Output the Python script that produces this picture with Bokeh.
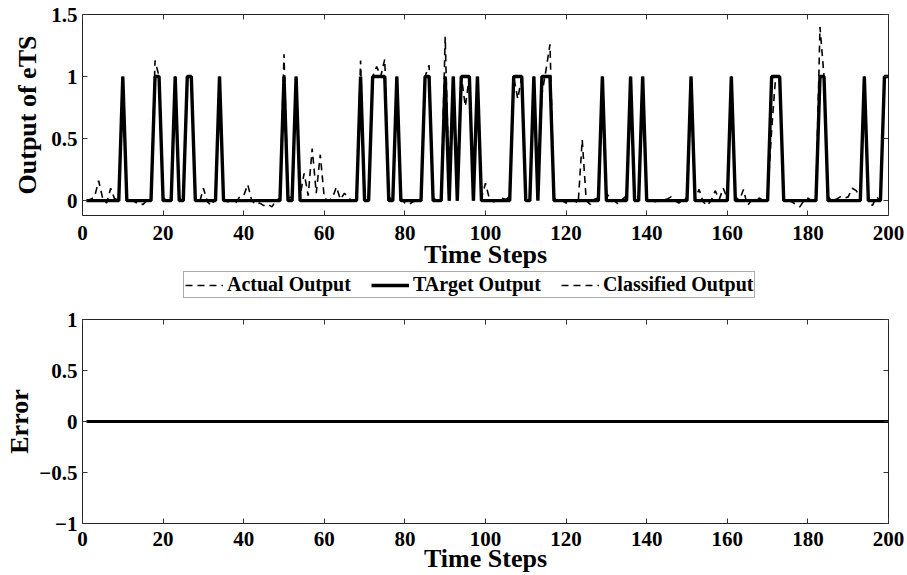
from bokeh.plotting import figure
from bokeh.layouts import column
from bokeh.models import (FixedTicker, LinearAxis, Legend, LegendItem, Range1d,
                          CustomJSTickFormatter)
from bokeh.embed import file_html
from bokeh.resources import INLINE

# ---------------------------------------------------------------- data
time_steps = list(range(1, 201))

target_output = [
    0, 0, 0, 0, 0, 0, 0, 0, 0, 1,
    0, 0, 0, 0, 0, 0, 0, 1, 1, 0,
    0, 0, 1, 0, 0, 1, 1, 0, 0, 0,
    0, 0, 0, 1, 0, 0, 0, 0, 0, 0,
    0, 0, 0, 0, 0, 0, 0, 0, 0, 1,
    0, 0, 1, 0, 0, 0, 0, 0, 0, 0,
    0, 0, 0, 0, 0, 0, 0, 0, 1, 0,
    0, 1, 1, 1, 1, 0, 0, 1, 0, 0,
    0, 0, 0, 0, 1, 1, 0, 0, 0, 1,
    0, 1, 0, 1, 1, 1, 0, 1, 0, 0,
    0, 0, 0, 0, 0, 0, 1, 1, 1, 0,
    0, 1, 0, 1, 1, 1, 0, 0, 0, 0,
    0, 0, 0, 0, 0, 0, 0, 0, 1, 0,
    0, 0, 0, 0, 0, 1, 0, 0, 1, 0,
    0, 0, 0, 0, 0, 0, 0, 0, 0, 0,
    1, 0, 0, 0, 0, 0, 0, 0, 0, 0,
    1, 0, 0, 0, 0, 0, 0, 0, 0, 0,
    1, 1, 1, 0, 0, 0, 0, 0, 0, 0,
    0, 0, 1, 1, 0, 0, 0, 0, 0, 0,
    0, 0, 0, 1, 0, 0, 0, 0, 1, 1,
]

actual_output = [
    0.00, 0.01, 0.03, 0.16, 0.02, -0.02, 0.10, 0.01, 0.03, 0.98,
    0.01, 0.00, -0.01, -0.03, -0.03, 0.00, 0.02, 1.13, 1.00, 0.02,
    0.00, -0.01, 1.00, 0.01, 0.02, 0.99, 1.00, 0.02, -0.02, 0.10,
    -0.01, -0.04, 0.02, 1.00, 0.01, -0.01, 0.00, -0.02, 0.03, 0.04,
    0.13, 0.00, -0.03, -0.02, -0.04, -0.03, -0.05, 0.00, 0.02, 1.18,
    0.02, 0.03, 1.00, 0.04, 0.22, 0.04, 0.42, 0.06, 0.37, 0.02,
    0.00, 0.02, 0.11, 0.01, 0.06, 0.02, 0.00, 0.01, 1.13, 0.02,
    0.01, 1.00, 1.08, 1.00, 1.14, 0.03, 0.00, 1.00, 0.02, -0.02,
    -0.03, -0.01, 0.00, 0.02, 1.00, 1.09, 0.02, 0.00, 0.01, 1.32,
    0.05, 1.00, 0.04, 1.00, 0.76, 1.00, 0.05, 1.00, 0.02, 0.14,
    0.01, -0.01, 0.00, 0.02, 0.01, 0.03, 1.00, 0.82, 1.00, 0.02,
    0.03, 1.00, 0.05, 0.86, 1.05, 1.26, 0.02, -0.01, 0.00, -0.02,
    0.01, 0.00, -0.02, 0.49, 0.00, -0.03, 0.01, 0.02, 1.00, 0.06,
    0.02, 0.00, -0.03, 0.01, 0.04, 1.00, 0.03, 0.02, 1.00, 0.01,
    0.00, -0.01, 0.00, 0.02, 0.01, 0.03, 0.00, -0.02, 0.01, 0.02,
    1.00, 0.02, 0.09, -0.01, -0.04, 0.00, 0.08, 0.01, 0.10, 0.02,
    1.00, 0.03, 0.00, 0.09, -0.04, 0.00, 0.01, 0.02, 0.00, 0.03,
    0.57, 1.00, 1.00, 0.02, 0.00, -0.01, -0.03, -0.05, 0.00, 0.02,
    0.00, 0.02, 1.40, 1.00, 0.03, 0.00, 0.01, 0.03, 0.02, 0.03,
    0.10, 0.08, 0.02, 1.00, 0.01, -0.04, 0.03, 0.00, 1.00, 1.00,
]

# the classifier reproduces the target class at every step
classified_output = list(target_output)
error = [t - c for t, c in zip(target_output, classified_output)]

x_ticks = [0, 20, 40, 60, 80, 100, 120, 140, 160, 180, 200]
top_y_ticks = [0, 0.5, 1, 1.5]
bottom_y_ticks = [-1, -0.5, 0, 0.5, 1]

# ---------------------------------------------------------------- style
FONT = "Liberation Serif"
TICK_SIZE = "21px"
LABEL_SIZE = "26px"
minus_fmt = CustomJSTickFormatter(code="return String(tick).replace('-', '\u2212');")
blank_fmt = CustomJSTickFormatter(code="return '';")

ACTUAL_STYLE = dict(line_color="black", line_width=1.6, line_dash="7 5")
TARGET_STYLE = dict(line_color="black", line_width=3.4)
CLASS_STYLE = dict(line_color="black", line_width=1.6, line_dash="7 5")


def dress(p, yticks, ylabel, ylabel_standoff, tick_standoff, xlabel_standoff):
    p.outline_line_color = "#222222"
    p.outline_line_width = 1
    p.grid.visible = False
    p.background_fill_color = "white"
    p.border_fill_color = "white"

    xa = p.xaxis[0]
    ya = p.yaxis[0]
    xa.ticker = FixedTicker(ticks=x_ticks)
    ya.ticker = FixedTicker(ticks=yticks)
    ya.formatter = minus_fmt
    for ax in (xa, ya):
        ax.axis_line_color = None
        ax.major_tick_in = 5
        ax.major_tick_out = 0
        ax.major_tick_line_color = "#333333"
        ax.minor_tick_line_color = None
        ax.major_label_text_font = FONT
        ax.major_label_text_font_style = "bold"
        ax.major_label_text_font_size = TICK_SIZE
        ax.major_label_text_color = "black"
        ax.axis_label_text_font = FONT
        ax.axis_label_text_font_style = "bold"
        ax.axis_label_text_font_size = LABEL_SIZE
        ax.axis_label_text_color = "black"
    xa.axis_label = "Time Steps"
    xa.major_label_standoff = tick_standoff
    xa.axis_label_standoff = xlabel_standoff
    ya.axis_label = ylabel
    ya.major_label_standoff = 5
    ya.axis_label_standoff = ylabel_standoff

    # mirrored tick marks on the top and right edges of the box
    top = LinearAxis(ticker=FixedTicker(ticks=x_ticks), axis_line_color=None,
                     major_tick_in=5, major_tick_out=0, minor_tick_line_color=None,
                     formatter=blank_fmt, major_label_standoff=0,
                     major_tick_line_color="#333333")
    right = LinearAxis(ticker=FixedTicker(ticks=yticks), axis_line_color=None,
                       major_tick_in=5, major_tick_out=0, minor_tick_line_color=None,
                       formatter=blank_fmt, major_label_standoff=0,
                       major_tick_line_color="#333333")
    p.add_layout(top, "above")
    p.add_layout(right, "right")


# ---------------------------------------------------------------- eTS output
p1 = figure(frame_width=806, frame_height=201, output_backend="svg",
            toolbar_location=None, x_range=Range1d(0, 200),
            y_range=Range1d(-0.12, 1.5),
            min_border_left=82, min_border_right=19,
            min_border_top=14, min_border_bottom=50)
dress(p1, top_y_ticks, "Output of eTS", 6, 10, -3)

p1.line(time_steps, actual_output, **ACTUAL_STYLE)
p1.line(time_steps, target_output, **TARGET_STYLE)
p1.line(time_steps, classified_output, **CLASS_STYLE)

# ---------------------------------------------------------------- legend strip
lg = figure(frame_width=907, frame_height=30, output_backend="svg",
            toolbar_location=None, x_range=Range1d(0, 1), y_range=Range1d(0, 1),
            min_border=0, outline_line_color=None)
lg.axis.visible = False
lg.grid.visible = False
# key swatches sit outside the strip's visible range; only the legend shows them
k_actual = lg.line([5, 6], [5, 5], **ACTUAL_STYLE)
k_target = lg.line([5, 6], [5, 5], **TARGET_STYLE)
k_class = lg.line([5, 6], [5, 5], **CLASS_STYLE)
legend = Legend(items=[LegendItem(label="Actual Output", renderers=[k_actual]),
                       LegendItem(label="TArget Output", renderers=[k_target]),
                       LegendItem(label="Classified Output", renderers=[k_class])],
                orientation="horizontal", location=(183, 3),
                label_text_font=FONT, label_text_font_style="bold",
                label_text_font_size="20px", label_text_color="black",
                glyph_width=38, glyph_height=14, label_height=14,
                label_standoff=4, spacing=20, padding=1, margin=0,
                border_line_color="#555555", border_line_width=1,
                background_fill_color="white", background_fill_alpha=1)
lg.add_layout(legend, "center")

# ---------------------------------------------------------------- error
p2 = figure(frame_width=806, frame_height=204, output_backend="svg",
            toolbar_location=None, x_range=Range1d(0, 200),
            y_range=Range1d(-1, 1),
            min_border_left=82, min_border_right=19,
            min_border_top=18, min_border_bottom=44)
dress(p2, bottom_y_ticks, "Error", 2, 8, -5)
p2.line(time_steps, error, line_color="black", line_width=3)

layout = column(p1, lg, p2, spacing=0)
open("out.html", "w").write(file_html(layout, INLINE))
